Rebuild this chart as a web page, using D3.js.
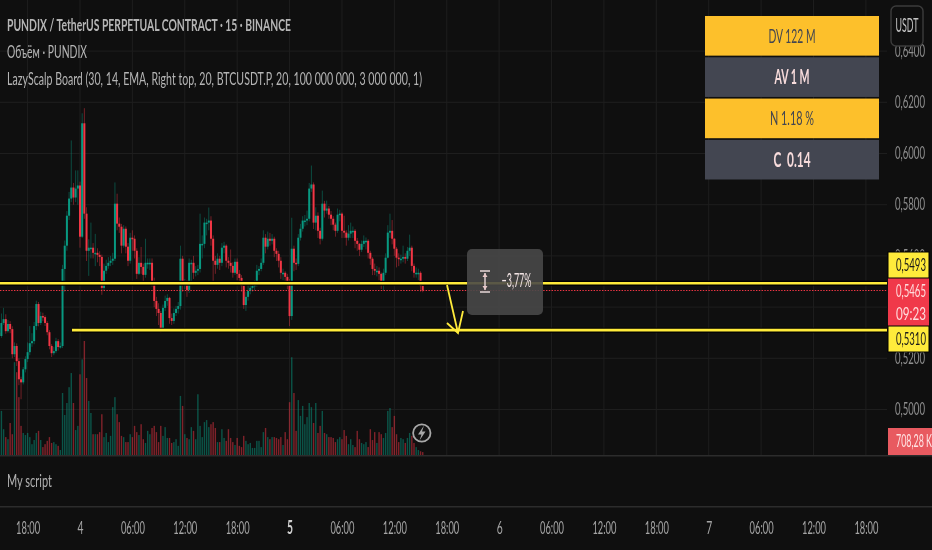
<!DOCTYPE html>
<html>
<head>
<meta charset="utf-8">
<script src="https://cdn.jsdelivr.net/npm/d3@7"></script>
<style>
  html, body { margin: 0; padding: 0; background: #0f0f0f; overflow: hidden; }
  svg { display: block; filter: blur(0.4px); }
  text { font-family: Lato, "Noto Sans", sans-serif; }
</style>
</head>
<body>
<svg id="svg" width="932" height="550"></svg>
<script>
// prices are in 1/10000 of a USDT, volume in millions, one bar every 15 minutes
var firstOpen = 5300;
var closes = [5287,5338,5353,5306,5334,5314,5216,5248,5189,5118,5106,5157,5197,5224,5259,5267,5326,5412,5338,5365,
5361,5338,5302,5248,5220,5228,5267,5244,5248,5549,5640,5757,5824,5867,5828,5863,5875,5675,6118,5765,
5620,5632,5632,5612,5612,5604,5596,5475,5542,5561,5573,5581,5589,5804,5726,5714,5640,5706,5636,5581,
5671,5667,5620,5530,5573,5557,5526,5573,5573,5573,5502,5424,5393,5377,5314,5397,5424,5436,5357,5346,
5377,5393,5404,5589,5491,5491,5467,5573,5573,5534,5542,5549,5647,5647,5730,5730,5738,5667,5581,5565,
5589,5573,5632,5640,5581,5573,5561,5534,5577,5530,5514,5483,5408,5440,5463,5475,5483,5487,5542,5549,
5573,5671,5636,5667,5659,5667,5620,5608,5581,5534,5534,5518,5495,5365,5628,5573,5569,5671,5706,5738,
5738,5745,5863,5879,5730,5757,5698,5667,5804,5777,5785,5761,5745,5722,5698,5761,5765,5698,5691,5671,
5687,5698,5698,5659,5647,5624,5647,5659,5659,5612,5589,5549,5542,5542,5530,5491,5534,5593,5691,5698,
5667,5628,5593,5589,5589,5596,5589,5620,5632,5561,5534,5534,5534,5483,5465];
var highs = [5330,5375,5397,5372,5350,5345,5325,5262,5258,5200,5128,5166,5208,5262,5326,5298,5342,5425,5420,5382,
5378,5368,5345,5310,5255,5245,5280,5275,5262,5565,5660,5775,5850,6051,5885,5934,5934,5890,6157,6177,
5790,5665,5730,5650,5686,5630,5618,5605,5570,5585,5595,5600,5612,5887,5843,5750,5725,5720,5715,5650,
5690,5700,5680,5630,5595,5635,5570,5667,5590,5590,5590,5515,5440,5415,5385,5410,5445,5450,5440,5375,
5395,5405,5420,5640,5600,5510,5505,5590,5585,5600,5560,5565,5765,5680,5750,5745,5789,5755,5680,5600,
5610,5600,5650,5655,5645,5595,5625,5575,5590,5590,5545,5525,5495,5460,5500,5490,5500,5505,5565,5560,
5590,5700,5685,5695,5690,5685,5675,5630,5620,5595,5550,5540,5530,5510,5749,5640,5590,5685,5725,5755,
5760,5777,5885,5953,5887,5790,5770,5710,5855,5815,5816,5795,5775,5755,5730,5785,5780,5770,5757,5700,
5720,5730,5715,5705,5670,5650,5660,5680,5672,5665,5620,5595,5570,5560,5555,5535,5550,5610,5720,5765,
5740,5670,5635,5610,5605,5640,5610,5635,5683,5640,5570,5555,5550,5540,5495];
var lows = [5270,5280,5330,5296,5300,5298,5200,5205,5170,5095,5040,5098,5145,5185,5212,5245,5255,5310,5325,5330,
5345,5326,5290,5235,5205,5212,5220,5230,5238,5240,5460,5620,5740,5810,5800,5810,5800,5632,5670,5745,
5580,5522,5590,5590,5560,5575,5560,5448,5465,5530,5550,5560,5565,5580,5700,5690,5610,5632,5610,5560,
5570,5620,5590,5510,5525,5530,5500,5515,5550,5545,5480,5400,5365,5330,5300,5305,5385,5405,5335,5330,
5335,5365,5375,5390,5460,5470,5440,5455,5500,5510,5520,5525,5535,5590,5630,5680,5700,5640,5502,5530,
5550,5545,5560,5610,5555,5550,5535,5515,5525,5505,5490,5460,5393,5385,5425,5450,5460,5465,5480,5525,
5540,5565,5610,5625,5640,5645,5595,5580,5555,5510,5505,5495,5470,5326,5350,5540,5545,5560,5660,5695,
5715,5720,5735,5850,5705,5700,5670,5645,5660,5750,5765,5745,5720,5700,5675,5690,5735,5670,5670,5640,
5660,5670,5670,5630,5620,5600,5615,5635,5625,5590,5565,5525,5525,5520,5505,5471,5465,5525,5590,5670,
5645,5600,5555,5560,5570,5575,5570,5580,5600,5540,5515,5515,5505,5460,5458];
var volumes = [6.0,10.6,6.2,4.3,3.8,7.7,5.0,22.3,19.9,13.9,7.0,5.3,4.8,5.3,4.3,2.6,3.6,5.3,5.8,3.6,
1.9,2.6,3.4,4.3,2.9,3.1,2.6,2.2,1.2,14.9,9.6,12.5,16.3,19.7,12.5,6.0,7.0,19.4,23.0,27.4,
18.5,13.0,10.1,5.0,5.0,5.0,5.5,9.8,4.3,5.3,3.1,4.6,11.5,13.9,9.8,7.9,4.6,4.3,3.1,3.1,
5.0,4.3,7.0,5.5,4.8,7.4,3.8,2.9,5.8,5.0,6.5,7.0,5.5,3.1,7.0,4.6,6.7,4.1,4.1,2.9,
3.1,3.8,2.2,14.2,11.8,5.0,4.1,3.8,6.7,5.8,3.8,14.6,7.0,4.3,7.9,8.4,6.7,7.4,7.9,6.5,
3.1,3.1,6.2,4.1,3.4,6.2,4.1,3.1,2.4,4.1,2.2,1.9,4.6,3.4,2.6,2.9,1.7,1.7,3.4,3.4,
1.9,5.5,6.5,4.3,3.8,4.3,4.3,4.1,3.8,4.3,2.4,5.5,3.8,12.7,23.5,14.9,5.8,13.2,9.4,11.8,
7.4,9.1,12.5,11.5,7.7,12.5,5.3,7.0,10.6,5.3,5.0,4.3,4.3,4.1,3.1,3.8,4.3,3.8,6.0,4.6,
2.6,3.8,2.4,1.9,5.8,3.8,2.9,2.6,3.1,1.9,6.2,3.6,5.5,2.9,5.5,5.0,4.1,5.3,10.6,11.3,
6.7,9.4,5.0,3.1,4.1,3.8,2.9,4.1,5.3,4.6,2.9,1.9,1.2,0.9,0.7];
var opens = [firstOpen].concat(closes.slice(0, -1));

var priceTicks = [5000,5200,5400,5600,5800,6000,6200,6400];
var timeTicks = ["2025-01-03T18:00Z","2025-01-04T00:00Z","2025-01-04T06:00Z","2025-01-04T12:00Z","2025-01-04T18:00Z",
  "2025-01-05T00:00Z","2025-01-05T06:00Z","2025-01-05T12:00Z","2025-01-05T18:00Z",
  "2025-01-06T00:00Z","2025-01-06T06:00Z","2025-01-06T12:00Z","2025-01-06T18:00Z",
  "2025-01-07T00:00Z","2025-01-07T06:00Z","2025-01-07T12:00Z","2025-01-07T18:00Z"].map(function(d){ return new Date(d) });
var timeLabels = ["18:00","4","06:00","12:00","18:00","5","06:00","12:00","18:00","6","06:00","12:00","18:00","7","06:00","12:00","18:00"];
var firstBar = new Date("2025-01-03T14:45Z");
var barMs = 15 * 60 * 1000;

var levelHigh = 5493, levelLast = 5465, levelLow = 5310;
var boardLabels = ["DV 122 M", "AV 1 M", "N 1.18 %", "C  0.14"];
var legendLines = ["PUNDIX / TetherUS PERPETUAL CONTRACT · 15 · BINANCE", "Объём · PUNDIX",
  "LazyScalp Board (30, 14, EMA, Right top, 20, BTCUSDT.P, 20, 100 000 000, 3 000 000, 1)"];

var UP = "#089981", DOWN = "#f23645", YELLOW = "#ffeb3b";

var svg = d3.select("#svg");
var paneRight = 887, paneBottom = 455;

var xScale = d3.scaleTime()
  .domain([new Date("2025-01-04T00:00Z"), new Date("2025-01-07T00:00Z")])
  .range([80, 708.7]);
var yScale = d3.scaleLinear().domain([5000, 6200]).range([409.5, 102.3]);
var volScale = d3.scaleLinear().domain([0, 27.4]).range([paneBottom, 341]);

var barX = function(i){ return xScale(new Date(firstBar.getTime() + i * barMs)) };
var isUp = function(i){ return closes[i] >= opens[i] };

svg.append("rect").attr("width", 932).attr("height", 550).attr("fill", "#0f0f0f");

// grid
var grid = svg.append("g").attr("stroke", "#1e1e1e").attr("stroke-width", 1);
grid.selectAll("line.v").data(timeTicks).enter().append("line").attr("class", "v")
  .attr("x1", function(d){ return xScale(d) }).attr("x2", function(d){ return xScale(d) })
  .attr("y1", 0).attr("y2", paneBottom);
grid.selectAll("line.h").data(priceTicks).enter().append("line").attr("class", "h")
  .attr("x1", 0).attr("x2", paneRight)
  .attr("y1", function(d){ return yScale(d) }).attr("y2", function(d){ return yScale(d) });

// pane separators
svg.append("rect").attr("x", 0).attr("y", 455).attr("width", 932).attr("height", 1.5).attr("fill", "#2c2c2c");
svg.append("rect").attr("x", 0).attr("y", 506).attr("width", 932).attr("height", 1.5).attr("fill", "#2c2c2c");

// volume
svg.append("g").selectAll("rect").data(volumes).enter().append("rect")
  .attr("x", function(d, i){ return barX(i) - 0.7 })
  .attr("y", function(d){ return volScale(d) })
  .attr("width", 1.4)
  .attr("height", function(d){ return volScale(0) - volScale(d) })
  .attr("fill", function(d, i){ return isUp(i) ? UP : DOWN })
  .attr("opacity", 0.5);

// candles
var candles = svg.append("g");
candles.selectAll("line").data(closes).enter().append("line")
  .attr("x1", function(d, i){ return barX(i) }).attr("x2", function(d, i){ return barX(i) })
  .attr("y1", function(d, i){ return yScale(highs[i]) })
  .attr("y2", function(d, i){ return yScale(lows[i]) })
  .attr("stroke", function(d, i){ return isUp(i) ? UP : DOWN })
  .attr("stroke-width", 0.8)
  .attr("opacity", 0.55);
candles.selectAll("rect").data(closes).enter().append("rect")
  .attr("x", function(d, i){ return barX(i) - 1 })
  .attr("y", function(d, i){ return yScale(Math.max(opens[i], closes[i])) })
  .attr("width", 2)
  .attr("height", function(d, i){ return Math.max(1.5, Math.abs(yScale(opens[i]) - yScale(closes[i]))) })
  .attr("fill", function(d, i){ return isUp(i) ? UP : DOWN });

// last price dotted line
svg.append("line").attr("x1", 0).attr("x2", paneRight)
  .attr("y1", yScale(levelLast)).attr("y2", yScale(levelLast))
  .attr("stroke", "#f23645").attr("stroke-width", 1.1).attr("stroke-dasharray", "1.4 1.4");

// drawn levels, black edge under yellow line
[[0, levelHigh], [72, levelLow]].forEach(function(l){
  svg.append("line").attr("x1", l[0]).attr("x2", paneRight).attr("y1", yScale(l[1])).attr("y2", yScale(l[1]))
    .attr("stroke", "#000").attr("stroke-width", 5);
  svg.append("line").attr("x1", l[0]).attr("x2", paneRight).attr("y1", yScale(l[1])).attr("y2", yScale(l[1]))
    .attr("stroke", YELLOW).attr("stroke-width", 2.6);
});

// price range arrow
var arrow = svg.append("g").attr("fill", "none").attr("stroke", YELLOW).attr("stroke-width", 1.8);
arrow.append("path").attr("d", "M447,285 L458,333");
arrow.append("path").attr("d", "M447,323 L458,333 L463,311");

// measure box
var box = svg.append("g");
box.append("rect").attr("x", 467).attr("y", 249).attr("width", 76).attr("height", 66).attr("rx", 5)
  .attr("fill", "#484848").attr("opacity", 0.9);
box.append("path").attr("d", "M480,271 h10 M480,292 h10 M485,273 v17").attr("stroke", "#e8d8d8").attr("stroke-width", 1.4);
box.append("path").attr("d", "M485,273 l-2.5,4 h5 z M485,290 l-2.5,-4 h5 z").attr("fill", "#e8c8c8");
box.append("text").attr("x", 501.5).attr("y", 287).attr("font-size", 19).attr("fill", "#f2e4e4")
  .attr("textLength", 30).attr("lengthAdjust", "spacingAndGlyphs").text("−3,77%");

// bolt icon
svg.append("circle").attr("cx", 421.8).attr("cy", 433).attr("r", 8.7).attr("fill", "#131313")
  .attr("stroke", "#a8a8a8").attr("stroke-width", 1.8);
svg.append("path").attr("d", "M424,425.5 L418,434.5 L421.5,434.5 L419.5,440.5 L425.5,431.5 L422,431.5 Z").attr("fill", "#a8a8a8");

// price axis
var yAxis = svg.append("g").attr("transform", "translate(895,0)")
  .call(d3.axisRight(yScale).tickValues(priceTicks).tickSize(0).tickPadding(0)
    .tickFormat(function(d){ return (d / 10000).toFixed(4).replace(".", ",") }));
yAxis.select(".domain").remove();
yAxis.selectAll("text").attr("fill", "#8f8f8f").attr("font-size", 16.5)
  .attr("textLength", 30).attr("lengthAdjust", "spacingAndGlyphs");

// time axis
var xAxis = svg.append("g").attr("transform", "translate(0,521)")
  .call(d3.axisBottom(xScale).tickValues(timeTicks).tickSize(0).tickPadding(0)
    .tickFormat(function(d, i){ return timeLabels[i] }));
xAxis.select(".domain").remove();
xAxis.selectAll("text").attr("fill", function(d, i){ return timeLabels[i] == "5" ? "#cfcfcf" : "#a5a5a5" })
  .attr("font-size", 18)
  .attr("font-weight", function(d, i){ return timeLabels[i] == "5" ? 700 : 400 })
  .attr("textLength", function(d, i){ return timeLabels[i].length > 1 ? 24 : 6 })
  .attr("lengthAdjust", "spacingAndGlyphs");

// price tags on the axis
function tag(y, h, w, fill, lines, textFill, border){
  svg.append("rect").attr("x", 888).attr("y", y).attr("width", w).attr("height", h).attr("fill", fill)
    .attr("stroke", border ? "#000" : "none");
  lines.forEach(function(t, i){
    svg.append("text").attr("x", 896).attr("y", y + 18.5 + i * 23).attr("font-size", 16.5).attr("fill", textFill)
      .attr("textLength", t.length > 6 ? 36 : 30).attr("lengthAdjust", "spacingAndGlyphs").text(t);
  });
}
tag(278, 48, 41, "#f0394a", ["0,5465", "09:23"], "#ffdcdc", false);
tag(252, 26, 41, YELLOW, ["0,5493"], "#1a1a1a", true);
tag(326, 26, 41, YELLOW, ["0,5310"], "#1a1a1a", true);
tag(428, 27, 44, "#e85a60", ["708,28 K"], "#ffe4e4", false);

// USDT button
svg.append("rect").attr("x", 891).attr("y", 6).attr("width", 32).attr("height", 40).attr("rx", 5)
  .attr("fill", "#0f0f0f").attr("stroke", "#3c3c3c").attr("stroke-width", 1.4);
svg.append("text").attr("x", 907).attr("y", 32).attr("text-anchor", "middle").attr("font-size", 19)
  .attr("fill", "#c4c4c4").attr("textLength", 23).attr("lengthAdjust", "spacingAndGlyphs").text("USDT");

// board table
var boardY = d3.scaleBand().domain(boardLabels).range([16, 179.5]).paddingInner(0.04);
svg.append("g").selectAll("rect").data(boardLabels).enter().append("rect")
  .attr("x", 705).attr("width", 174)
  .attr("y", function(d){ return boardY(d) }).attr("height", boardY.bandwidth())
  .attr("fill", function(d, i){ return i % 2 ? "#434651" : "#fdc02b" });
svg.append("g").selectAll("text").data(boardLabels).enter().append("text")
  .attr("x", 792).attr("text-anchor", "middle")
  .attr("y", function(d){ return boardY(d) + boardY.bandwidth() / 2 + 7 })
  .attr("font-size", 20)
  .attr("font-weight", function(d, i){ return i % 2 ? 700 : 400 })
  .attr("fill", function(d, i){ return i % 2 ? "#f8dcdc" : "#434651" })
  .attr("xml:space", "preserve")
  .attr("textLength", function(d, i){ return [47, 35, 44, 37][i] })
  .attr("lengthAdjust", "spacingAndGlyphs")
  .text(function(d){ return d });

// legend
svg.append("g").selectAll("text").data(legendLines).enter().append("text")
  .attr("x", 7)
  .attr("y", function(d, i){ return [31, 58, 85][i] })
  .attr("font-size", 17.5)
  .attr("font-weight", function(d, i){ return i ? 400 : 700 })
  .attr("fill", "#b5b5b5")
  .attr("textLength", function(d, i){ return [284, 80, 415][i] })
  .attr("lengthAdjust", "spacingAndGlyphs")
  .text(function(d){ return d });

svg.append("text").attr("x", 7).attr("y", 487).attr("font-size", 18).attr("fill", "#b0b0b0")
  .attr("textLength", 45).attr("lengthAdjust", "spacingAndGlyphs").text("My script");
</script>
</body>
</html>
